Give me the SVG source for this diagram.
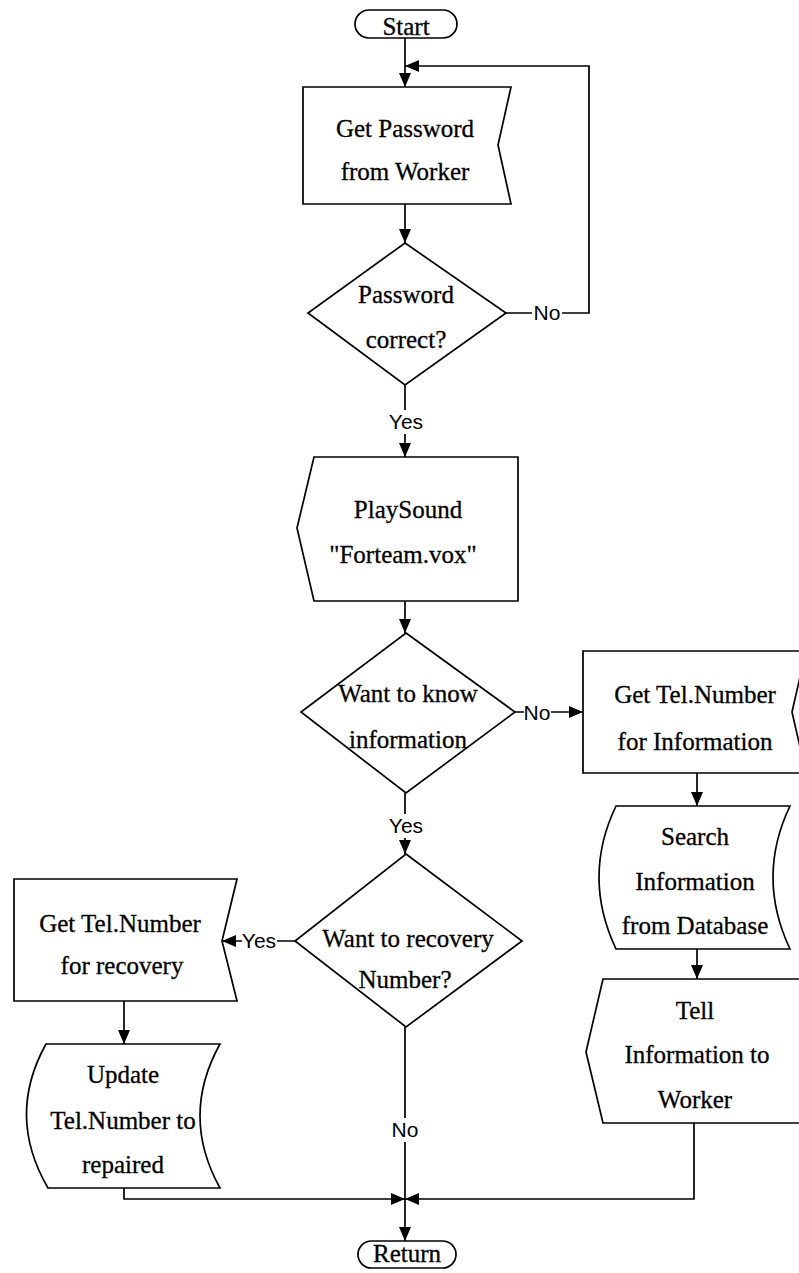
<svg xmlns="http://www.w3.org/2000/svg" width="799" height="1273" viewBox="0 0 799 1273">
  <style>
    .shape { fill: #ffffff; stroke: #000000; stroke-width: 1.7; stroke-linejoin: miter; }
    .conn { fill: none; stroke: #000000; stroke-width: 1.7; }
    .txt { font-family: "Liberation Serif", "Times New Roman", serif; font-size: 25px; fill: #000000; stroke: #000000; stroke-width: 0.3; text-anchor: middle; }
    .lbl { font-family: "Liberation Sans", Arial, sans-serif; font-size: 21px; fill: #000000; text-anchor: middle; }
    .lblbg { fill: #ffffff; stroke: none; }
  </style>
  <defs>
    <marker id="arrow" viewBox="0 0 14 12" markerWidth="14" markerHeight="12" refX="14" refY="6" orient="auto" markerUnits="userSpaceOnUse">
      <path d="M0,0 L14,6 L0,12 z" fill="#000000"/>
    </marker>
  </defs>
  <rect x="0" y="0" width="799" height="1273" fill="#ffffff"/>

  <!-- connectors -->
  <g id="connectors">
    <path class="conn" d="M405,38 L405,87" marker-end="url(#arrow)"/>
    <path class="conn" d="M506,313 L589,313 L589,66 L405,66" marker-end="url(#arrow)"/>
    <path class="conn" d="M405,204 L405,243" marker-end="url(#arrow)"/>
    <path class="conn" d="M405,385 L405,457" marker-end="url(#arrow)"/>
    <path class="conn" d="M405,601 L405,633" marker-end="url(#arrow)"/>
    <path class="conn" d="M515,712 L583,712" marker-end="url(#arrow)"/>
    <path class="conn" d="M405,793 L405,854" marker-end="url(#arrow)"/>
    <path class="conn" d="M295,941 L222,941" marker-end="url(#arrow)"/>
    <path class="conn" d="M124,1001 L124,1044" marker-end="url(#arrow)"/>
    <path class="conn" d="M697,773 L697,806" marker-end="url(#arrow)"/>
    <path class="conn" d="M697,949 L697,979" marker-end="url(#arrow)"/>
    <path class="conn" d="M124,1188 L124,1199 L405,1199" marker-end="url(#arrow)"/>
    <path class="conn" d="M694,1123 L694,1199 L405,1199" marker-end="url(#arrow)"/>
    <path class="conn" d="M405,1027 L405,1241" marker-end="url(#arrow)"/>

    <!-- branch labels -->
    <rect class="lblbg" x="532" y="302" width="30" height="22"/>
    <text class="lbl" x="547" y="320">No</text>
    <rect class="lblbg" x="389" y="410" width="34" height="24"/>
    <text class="lbl" x="406" y="429">Yes</text>
    <rect class="lblbg" x="524" y="701" width="27" height="22"/>
    <text class="lbl" x="537" y="720">No</text>
    <rect class="lblbg" x="389" y="814" width="34" height="24"/>
    <text class="lbl" x="406" y="833">Yes</text>
    <rect class="lblbg" x="242" y="930" width="35" height="24"/>
    <text class="lbl" x="259" y="948">Yes</text>
    <rect class="lblbg" x="391" y="1118" width="28" height="24"/>
    <text class="lbl" x="405" y="1137">No</text>
  </g>

  <!-- terminator: Start -->
  <g id="start">
    <rect class="shape" x="355" y="10" width="102" height="28" rx="14" ry="14"/>
    <text class="txt" x="406" y="35">Start</text>
  </g>

  <!-- manual input: password -->
  <g id="get-password">
    <path class="shape" d="M303,87 L511,87 L498,145 L511,204 L303,204 Z"/>
    <text class="txt" x="405" y="137">Get Password</text>
    <text class="txt" x="405" y="180">from Worker</text>
  </g>

  <!-- decision: password check -->
  <g id="password-correct">
    <path class="shape" d="M405,243 L506,313 L405,385 L308,313 Z"/>
    <text class="txt" x="406" y="303">Password</text>
    <text class="txt" x="406" y="348">correct?</text>
  </g>

  <!-- display: play greeting -->
  <g id="play-sound">
    <path class="shape" d="M314,457 L518,457 L518,601 L314,601 L297,528 Z"/>
    <text class="txt" x="408" y="518">PlaySound</text>
    <text class="txt" x="403" y="563">"Forteam.vox"</text>
  </g>

  <!-- decision: information request -->
  <g id="want-info">
    <path class="shape" d="M406,633 L515,712 L406,793 L301,712 Z"/>
    <text class="txt" x="408" y="702">Want to know</text>
    <text class="txt" x="408" y="748">information</text>
  </g>

  <!-- manual input: number for information -->
  <g id="get-tel-info">
    <path class="shape" d="M583,651 L806,651 L792,712 L806,773 L583,773 Z"/>
    <text class="txt" x="695" y="703">Get Tel.Number</text>
    <text class="txt" x="695" y="750">for Information</text>
  </g>

  <!-- stored data: database lookup -->
  <g id="search-info">
    <path class="shape" d="M616,806 L790,806 Q756,877 790,949 L616,949 Q582,877 616,806 Z"/>
    <text class="txt" x="695" y="845">Search</text>
    <text class="txt" x="695" y="890">Information</text>
    <text class="txt" x="695" y="934">from Database</text>
  </g>

  <!-- display: tell result -->
  <g id="tell-info">
    <path class="shape" d="M603,979 L806,979 L806,1123 L603,1123 L586,1052 Z"/>
    <text class="txt" x="695" y="1019">Tell</text>
    <text class="txt" x="697" y="1063">Information to</text>
    <text class="txt" x="695" y="1108">Worker</text>
  </g>

  <!-- decision: recovery request -->
  <g id="want-recovery">
    <path class="shape" d="M406,854 L522,941 L406,1027 L295,941 Z"/>
    <text class="txt" x="408" y="947">Want to recovery</text>
    <text class="txt" x="405" y="988">Number?</text>
  </g>

  <!-- manual input: number for recovery -->
  <g id="get-tel-recovery">
    <path class="shape" d="M14,879 L237,879 L222,941 L237,1001 L14,1001 Z"/>
    <text class="txt" x="120" y="932">Get Tel.Number</text>
    <text class="txt" x="122" y="974">for recovery</text>
  </g>

  <!-- stored data: update record -->
  <g id="update-tel">
    <path class="shape" d="M46,1044 L220,1044 Q180,1116 220,1188 L48,1188 Q6,1116 46,1044 Z"/>
    <text class="txt" x="123" y="1083">Update</text>
    <text class="txt" x="123" y="1129">Tel.Number to</text>
    <text class="txt" x="123" y="1173">repaired</text>
  </g>

  <!-- terminator: Return -->
  <g id="return">
    <rect class="shape" x="358" y="1241" width="98" height="27" rx="13.5" ry="13.5"/>
    <text class="txt" x="407" y="1262">Return</text>
  </g>
</svg>
